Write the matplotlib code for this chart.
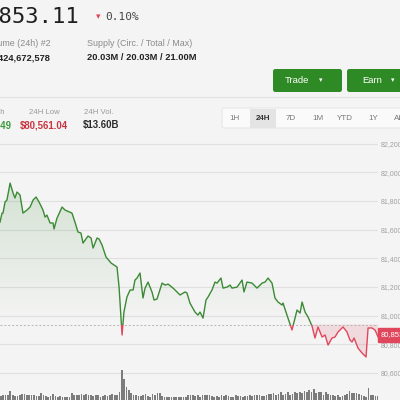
import numpy as np
import matplotlib.pyplot as plt
from matplotlib.patches import Rectangle, FancyBboxPatch
from matplotlib.lines import Line2D
from matplotlib.path import Path
from matplotlib.colors import to_rgb

# price line (hours into the 24h window, USD)
hours = [0.00, 0.13, 0.19, 0.32, 0.44, 0.64, 0.83, 0.95, 1.08, 1.27, 1.46, 1.71,
         1.91, 2.10, 2.29, 2.48, 2.73, 2.86, 2.98, 3.18, 3.37, 3.43, 3.62, 3.94,
         4.13, 4.57, 4.76, 4.95, 5.14, 5.27, 5.59, 5.78, 5.91, 6.16, 6.29, 6.48,
         6.73, 7.05, 7.24, 7.43, 7.56, 7.75, 7.87, 8.06, 8.26, 8.45, 8.57, 8.70,
         8.89, 9.08, 9.21, 9.40, 9.65, 9.78, 9.97, 10.29, 10.48, 10.67, 10.99, 11.43,
         11.75, 11.87, 12.06, 12.38, 12.57, 12.70, 12.89, 13.08, 13.21, 13.46, 13.65, 13.78,
         14.03, 14.16, 14.41, 14.61, 14.73, 15.05, 15.37, 15.49, 15.68, 16.00, 16.32, 16.64,
         16.83, 17.02, 17.27, 17.46, 17.65, 17.91, 17.97, 18.22, 18.54, 18.86, 19.05, 19.18,
         19.37, 19.56, 19.81, 20.00, 20.19, 20.45, 20.64, 20.83, 21.08, 21.27, 21.46, 21.78,
         22.03, 22.22, 22.35, 22.48, 22.73, 22.99, 23.24, 23.37, 23.62, 23.81, 24.00]
prices = [81652, 81715, 81715, 81792, 81806, 81924, 81855, 81820, 81862, 81841, 81715, 81736,
          81757, 81806, 81827, 81792, 81736, 81687, 81701, 81646, 81646, 81604, 81680, 81757,
          81736, 81715, 81652, 81583, 81576, 81506, 81555, 81541, 81471, 81541, 81534, 81492,
          81409, 81367, 81353, 81339, 81199, 80865, 81025, 81130, 81179, 81179, 81248, 81262,
          81297, 81123, 81192, 81234, 81165, 81109, 81116, 81227, 81213, 81220, 81192, 81144,
          81165, 81158, 81088, 81025, 81004, 81025, 80983, 81109, 81130, 81179, 81234, 81227,
          81262, 81192, 81199, 81213, 81192, 81199, 81248, 81165, 81234, 81227, 81192, 81227,
          81234, 81262, 81227, 81123, 81095, 81074, 81088, 81004, 80900, 81039, 81018, 81095,
          81025, 80990, 80928, 80844, 80921, 80851, 80865, 80795, 80844, 80851, 80886, 80921,
          80886, 80830, 80816, 80844, 80774, 80739, 80712, 80914, 80914, 80900, 80853]
ref_price = 80938
last_price = 80853.11
price_ticks = [80400, 80600, 80800, 81000, 81200, 81400, 81600, 81800, 82000, 82200]

volumes = [10, 12, 12, 13, 23, 12, 10, 10, 13, 16, 16, 14, 14, 13, 12, 10, 10, 17, 12, 10, 8,
           10, 15, 10, 9, 10, 8, 8, 8, 8, 19, 12, 14, 14, 16, 14, 15, 12, 14, 10, 12, 13,
           8, 10, 14, 10, 12, 16, 14, 12, 22, 80, 55, 35, 25, 18, 13, 12, 10, 10, 13, 15,
           10, 8, 16, 12, 18, 18, 10, 8, 8, 8, 8, 8, 7, 8, 8, 7, 8, 12, 12, 12, 10, 12,
           8, 12, 14, 12, 12, 10, 8, 10, 8, 12, 10, 14, 10, 8, 8, 12, 10, 10, 8, 10, 10,
           12, 10, 12, 14, 12, 10, 10, 12, 16, 16, 18, 14, 16, 20, 14, 16, 20, 14, 16, 22, 18,
           22, 18, 24, 20, 26, 22, 28, 18, 20, 22, 14, 20, 16, 12, 14, 10, 12, 8, 10, 12,
           16, 24, 18, 18, 18, 16, 14, 10, 8, 30, 14, 12, 10, 10]

range_labels = ["1H", "24H", "7D", "1M", "YTD", "1Y", "ALL"]
range_x = [235, 263, 291, 318, 345, 373, 401]

GREEN = "#3b8a34"
RED = "#e0475c"
BG = "#f4f4f4"
SANS = "Liberation Sans"


def fx(x):
    return x / 400


def fy(y):
    return 1 - y / 400


fig = plt.figure(figsize=(4, 4), dpi=100, facecolor=BG)

# --- price chart ---
ax = fig.add_axes([0, fy(402), fx(378), (402 - 142.5) / 400])
ax.set_facecolor("none")
for s in ax.spines.values():
    s.set_visible(False)

h = np.array(hours)
p = np.array(prices)

above = Rectangle((-1, ref_price), 26, 5000, transform=ax.transData)
below = Rectangle((-1, ref_price - 5000), 26, 5000, transform=ax.transData)

up_fill = ax.fill_between(h, p, ref_price, where=p >= ref_price, interpolate=True,
                          color="none", lw=0)
grad = np.zeros((100, 1, 4))
grad[..., :3] = to_rgb(GREEN)
grad[:, 0, 3] = np.linspace(0.17, 0.0, 100)
im = ax.imshow(grad, extent=[0, 24, ref_price, p.max()], aspect="auto",
               origin="upper", zorder=1)
im.set_clip_path(Path.make_compound_path(*up_fill.get_paths()), ax.transData)

ax.fill_between(h, p, ref_price, where=p <= ref_price, interpolate=True,
                color=RED, alpha=0.15, lw=0, zorder=1)

ax.axhline(ref_price, color="#b5b5b5", lw=0.7, ls=(0, (2, 2)), zorder=2)

ln_up, = ax.plot(h, p, color=GREEN, lw=1.0, zorder=3)
ln_up.set_clip_path(above)
ln_dn, = ax.plot(h, p, color=RED, lw=1.0, zorder=3)
ln_dn.set_clip_path(below)

ax.set_xlim(0, 24)
ax.set_ylim(80398, 82207)
ax.set_xticks([])
ax.yaxis.tick_right()
ax.set_yticks(price_ticks)
ax.set_yticklabels([f"{t:,}" for t in price_ticks])
ax.tick_params(axis="y", length=0, pad=2, labelsize=5, labelcolor="#a0a0a0")
for lab in ax.get_yticklabels():
    lab.set_family(SANS)
ax.grid(axis="y", color="#e0e0e0", lw=0.8)
ax.set_axisbelow(True)

# last price tag
fig.add_artist(Rectangle((fx(378), fy(342)), fx(30), 14.5 / 400,
                         transform=fig.transFigure, color=RED, zorder=5))
fig.text(fx(381), fy(335), f"{last_price:,.0f}", color="white", fontsize=5.5,
         family=SANS, va="center", zorder=6)

# --- volume bars ---
vax = fig.add_axes([0, 0, fx(378), 30 / 400])
bar_x = np.linspace(0.05, 24.0, len(volumes))
vax.bar(bar_x, volumes, width=24 / len(volumes) * 0.72, color="#7c7c7c")
vax.set_xlim(0, 24)
vax.set_ylim(0, 78)
vax.axis("off")

# --- header ---
fig.text(fx(80), fy(17), "$80,853.11", ha="right", va="center", fontsize=16,
         family="DejaVu Sans Mono", color="#1f1f1f")
fig.text(fx(98), fy(17), "\u25be", ha="center", va="center", fontsize=6.5, color=RED)
fig.text(fx(105), fy(17), "0.10%", ha="left", va="center", fontsize=8,
         family="DejaVu Sans Mono", color="#444444")

fig.text(fx(51), fy(44), "Volume (24h) #2", ha="right", va="center", fontsize=6.4,
         family=SANS, color="#8a8a8a")
fig.text(fx(51), fy(58), "$13,424,672,578", ha="right", va="center", fontsize=6.7,
         family=SANS, weight="bold", color="#222222")
fig.text(fx(87), fy(44), "Supply (Circ. / Total / Max)", ha="left", va="center",
         fontsize=6.4, family=SANS, color="#8a8a8a")
fig.text(fx(87), fy(58), "20.03M / 20.03M / 21.00M", ha="left", va="center",
         fontsize=6.7, family=SANS, weight="bold", color="#222222")

# buttons
for x0, x1, label, tx, ax_ in [(273, 342, "Trade", 297, 321), (347, 420, "Earn", 372, 393)]:
    fig.add_artist(FancyBboxPatch((fx(x0), fy(92)), fx(x1 - x0), 23 / 400,
                                  boxstyle="round,pad=0,rounding_size=0.006",
                                  transform=fig.transFigure, fc="#2e8a24", ec="none"))
    fig.text(fx(tx), fy(80.5), label, ha="center", va="center", fontsize=6.8,
             family=SANS, color="white")
    fig.text(fx(ax_), fy(80.5), "\u25be", ha="center", va="center", fontsize=5,
             color="white")

fig.add_artist(Line2D([0, 1], [fy(96.5), fy(96.5)], transform=fig.transFigure,
                      color="#e2e2e2", lw=0.8))

# 24h stats
stats = [(4, 12, "right", "24H High", "$82,286.49", "#3a9a3a"),
         (44, 44, "center", "24H Low", "$80,561.04", "#c8343f"),
         (99, 101, "center", "24H Vol.", "$13.60B", "#2a2a2a")]
for lx, vx, ha, lab, val, col in stats:
    fig.text(fx(lx), fy(112), lab, ha=ha, va="center", fontsize=5.6, family=SANS,
             color="#9a9a9a")
    fig.text(fx(vx), fy(125), val, ha=ha, va="center", fontsize=6.9, family=SANS,
             weight="bold", color=col)

# range selector
fig.add_artist(FancyBboxPatch((fx(222), fy(128)), fx(200), 20 / 400,
                              boxstyle="round,pad=0,rounding_size=0.005",
                              transform=fig.transFigure, fc="#fafafa", ec="#e2e2e2", lw=0.6))
fig.add_artist(Rectangle((fx(250), fy(127.5)), fx(26), 19 / 400,
                         transform=fig.transFigure, fc="#e4e4e4", ec="none"))
for lab, x in zip(range_labels, range_x):
    sel = lab == "24H"
    fig.text(fx(x), fy(118), lab, ha="center", va="center", fontsize=5.8, family=SANS,
             weight="bold" if sel else "normal", color="#333333" if sel else "#777777")

fig.savefig("out.png", dpi=100, facecolor=BG)
